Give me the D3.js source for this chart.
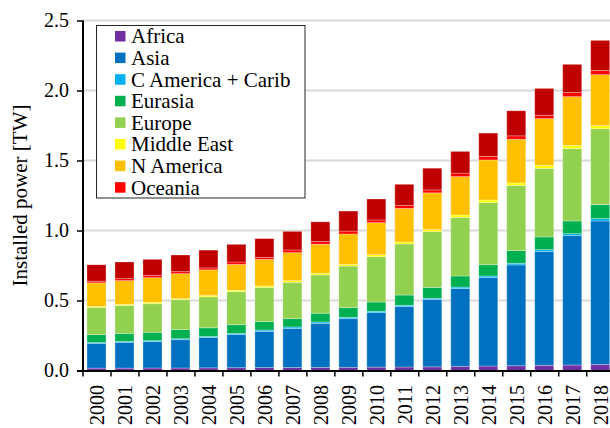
<!DOCTYPE html>
<html>
<head>
<meta charset="utf-8">
<script src="https://cdn.jsdelivr.net/npm/d3@7"></script>
<style>
  html, body { margin: 0; padding: 0; background: #fff; overflow: hidden; }
  svg { display: block; font-family: "Liberation Serif", "Times New Roman", serif; }
</style>
</head>
<body>
<svg id="chart" width="610" height="428"></svg>
<script>
// Installed renewable power by region, 2000-2018 [TW]
const years = ["2000","2001","2002","2003","2004","2005","2006","2007","2008","2009",
               "2010","2011","2012","2013","2014","2015","2016","2017","2018"];

const africa     = [0.017,0.017,0.018,0.018,0.019,0.020,0.021,0.021,0.022,0.023,0.024,0.025,0.026,0.030,0.032,0.034,0.037,0.039,0.044];
const asia       = [0.177,0.184,0.188,0.202,0.216,0.236,0.259,0.280,0.315,0.347,0.389,0.431,0.480,0.555,0.631,0.720,0.812,0.924,1.024];
const cAmerica   = [0.006,0.007,0.007,0.007,0.008,0.009,0.009,0.010,0.010,0.010,0.010,0.010,0.010,0.011,0.012,0.012,0.014,0.014,0.017];
const eurasia    = [0.057,0.057,0.060,0.065,0.062,0.062,0.060,0.059,0.062,0.069,0.066,0.073,0.077,0.079,0.081,0.091,0.091,0.091,0.100];
const europe     = [0.193,0.200,0.204,0.214,0.221,0.236,0.245,0.260,0.274,0.297,0.324,0.365,0.400,0.419,0.443,0.465,0.490,0.517,0.542];
const middleEast = [0.007,0.008,0.010,0.007,0.010,0.010,0.010,0.012,0.012,0.012,0.014,0.014,0.014,0.017,0.019,0.018,0.021,0.023,0.022];
const nAmerica   = [0.169,0.169,0.176,0.179,0.183,0.185,0.190,0.200,0.207,0.217,0.229,0.240,0.262,0.274,0.286,0.312,0.334,0.348,0.364];
const oceania    = [0.012,0.014,0.017,0.014,0.014,0.017,0.014,0.019,0.019,0.021,0.019,0.022,0.021,0.025,0.026,0.024,0.024,0.029,0.031];
const sAmerica   = [0.117,0.119,0.114,0.119,0.127,0.126,0.134,0.133,0.141,0.143,0.150,0.150,0.155,0.155,0.166,0.179,0.192,0.202,0.214];

const seriesNames  = ["Africa","Asia","C America + Carib","Eurasia","Europe","Middle East","N America","Oceania","S America"];
const seriesValues = [africa, asia, cAmerica, eurasia, europe, middleEast, nAmerica, oceania, sAmerica];
const seriesColors = ["#7030A0","#0070C0","#00B0F0","#00B050","#92D050","#FFFF00","#FFC000","#FF0000","#C00000"];
const legendCount  = 8;   // entries shown inside the legend box

const yTicks = [0, 0.5, 1.0, 1.5, 2.0, 2.5];

// Table for d3.stack: one row per year
const table = years.map((yr, i) => {
  const row = { year: yr };
  seriesNames.forEach((name, s) => { row[name] = seriesValues[s][i]; });
  return row;
});

const svg = d3.select("#chart");

const plot = { left: 83, right: 614.7, top: 20.5, bottom: 370.5 };

const x = d3.scaleBand()
  .domain(years)
  .range([plot.left, plot.right])
  .paddingInner(0.32)
  .paddingOuter(0.16);

const y = d3.scaleLinear()
  .domain([0, 2.5])
  .range([plot.bottom, plot.top]);

const color = d3.scaleOrdinal().domain(seriesNames).range(seriesColors);

// Horizontal gridlines
svg.append("g")
  .selectAll("line")
  .data(yTicks.filter(d => d > 0))
  .join("line")
  .attr("x1", plot.left)
  .attr("x2", 610)
  .attr("y1", d => y(d))
  .attr("y2", d => y(d))
  .attr("stroke", "#d9d9d9")
  .attr("stroke-width", 2);

// Stacked bars
const stacked = d3.stack().keys(seriesNames)(table);

svg.append("g")
  .selectAll("g")
  .data(stacked)
  .join("g")
  .attr("fill", d => color(d.key))
  .selectAll("rect")
  .data(d => d)
  .join("rect")
  .attr("x", d => x(d.data.year) - 0.5)
  .attr("width", x.bandwidth())
  .attr("y", d => y(d[1]))
  .attr("height", d => y(d[0]) - y(d[1]))
  .attr("stroke", "rgba(255,255,255,0.35)")
  .attr("stroke-width", 0.8);

// Y axis
const yAxis = d3.axisLeft(y)
  .tickValues(yTicks)
  .tickFormat(d3.format(".1f"))
  .tickSize(6)
  .tickPadding(8);

const gy = svg.append("g")
  .attr("transform", `translate(${plot.left},0)`)
  .call(yAxis);
gy.select(".domain").attr("stroke", "#000").attr("stroke-width", 2)
  .attr("d", `M0,${plot.top}V${plot.bottom + 1}`);
gy.selectAll(".tick line").attr("stroke", "#000").attr("stroke-width", 1.5);
gy.selectAll(".tick text")
  .attr("fill", "#000")
  .style("font-family", "'Liberation Serif', serif")
  .style("font-size", "20px");

// X axis: line, ticks between categories, rotated labels
const gx = svg.append("g");
gx.append("line")
  .attr("x1", plot.left - 6)
  .attr("x2", 610)
  .attr("y1", plot.bottom + 0.5)
  .attr("y2", plot.bottom + 0.5)
  .attr("stroke", "#000")
  .attr("stroke-width", 2);

const step = x.step();
gx.selectAll("line.xtick")
  .data(years)
  .join("line")
  .attr("class", "xtick")
  .attr("x1", (d, i) => plot.left + i * step)
  .attr("x2", (d, i) => plot.left + i * step)
  .attr("y1", plot.bottom)
  .attr("y2", plot.bottom + 6)
  .attr("stroke", "#000")
  .attr("stroke-width", 1.5);

gx.selectAll("text")
  .data(years)
  .join("text")
  .attr("transform", d => `translate(${x(d) + x.bandwidth() / 2},385) rotate(-90)`)
  .attr("dy", "0.35em")
  .attr("text-anchor", "end")
  .attr("fill", "#000")
  .style("font-size", "20px")
  .text(d => d);

// Y axis title
svg.append("text")
  .attr("transform", `translate(27,${(plot.top + plot.bottom) / 2}) rotate(-90)`)
  .attr("text-anchor", "middle")
  .attr("fill", "#000")
  .style("font-size", "21px")
  .text("Installed power [TW]");

// Legend
const legend = svg.append("g");
legend.append("rect")
  .attr("x", 96.5)
  .attr("y", 25.5)
  .attr("width", 208.5)
  .attr("height", 172.5)
  .attr("fill", "#fff")
  .attr("stroke", "#262626")
  .attr("stroke-width", 1);

const items = legend.selectAll("g.item")
  .data(seriesNames.slice(0, legendCount))
  .join("g")
  .attr("class", "item")
  .attr("transform", (d, i) => `translate(0,${36 + i * 21.6})`);

items.append("rect")
  .attr("x", 115)
  .attr("y", -5)
  .attr("width", 10.5)
  .attr("height", 10.5)
  .attr("fill", d => color(d));

items.append("text")
  .attr("x", 131)
  .attr("dy", "0.35em")
  .attr("fill", "#000")
  .style("font-size", "21px")
  .text(d => d);
</script>
</body>
</html>
